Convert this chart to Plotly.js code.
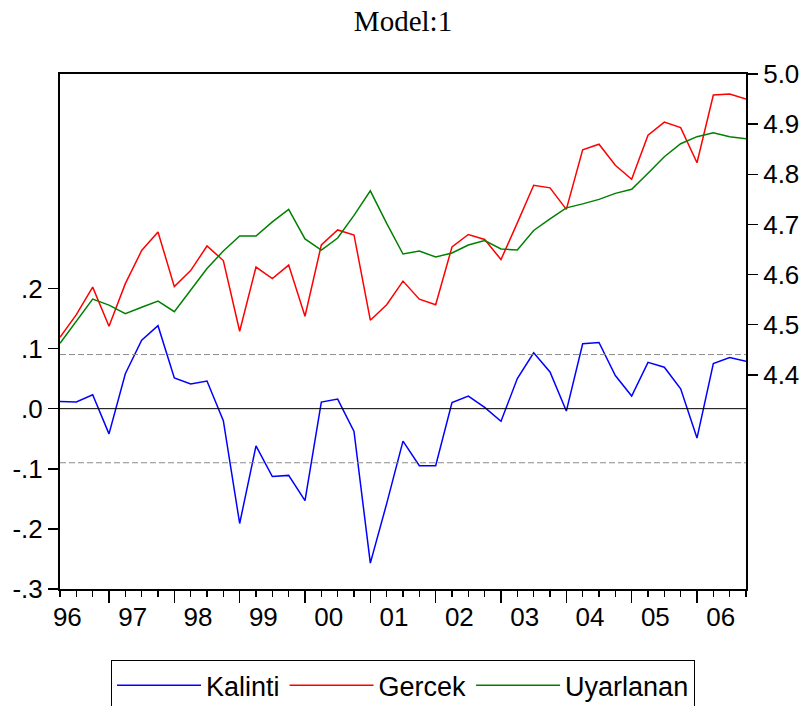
<!DOCTYPE html>
<html><head><meta charset="utf-8">
<script src="https://cdn.plot.ly/plotly-3.0.1.min.js"></script>
<style>html,body{margin:0;padding:0;background:#fff}#chart{width:806px;height:706px}</style>
</head><body><div id="chart"></div>
<script>
// ---- data (quarterly, 1996Q1 .. 2006Q3) ----
const yearLabels = ['96','97','98','99','00','01','02','03','04','05','06'];
const kalinti = [0.012,0.011,0.023,-0.042,0.058,0.114,0.138,0.051,0.041,0.046,-0.020,-0.191,
  -0.062,-0.113,-0.111,-0.153,0.011,0.016,-0.038,-0.257,-0.158,-0.054,-0.095,-0.095,
  0.010,0.021,0.002,-0.021,0.050,0.093,0.061,-0.004,0.108,0.110,0.055,0.021,
  0.077,0.069,0.033,-0.049,0.075,0.085,0.079];
const gercek = [4.475,4.520,4.575,4.497,4.582,4.648,4.685,4.576,4.608,4.657,4.628,4.487,
  4.615,4.592,4.619,4.517,4.659,4.689,4.679,4.509,4.540,4.587,4.551,4.540,
  4.655,4.680,4.670,4.630,4.703,4.778,4.773,4.730,4.849,4.860,4.818,4.790,
  4.878,4.904,4.893,4.823,4.958,4.960,4.950];
const uyarlanan = [4.463,4.507,4.551,4.539,4.522,4.535,4.547,4.526,4.569,4.612,4.647,4.677,
  4.677,4.705,4.730,4.671,4.649,4.673,4.718,4.767,4.702,4.641,4.647,4.635,
  4.643,4.659,4.668,4.651,4.649,4.688,4.711,4.733,4.741,4.750,4.762,4.770,
  4.802,4.835,4.861,4.875,4.883,4.875,4.871];
const seBand = 0.09;
const leftTicks = [-0.3,-0.2,-0.1,0,0.1,0.2];
const leftTickText = ['-.3','-.2','-.1','.0','.1','.2'];
const rightTicks = [4.4,4.5,4.6,4.7,4.8,4.9,5.0];
const rightTickText = ['4.4','4.5','4.6','4.7','4.8','4.9','5.0'];

// ---- build ----
const n = gercek.length;
const xIdx = Array.from({length:n},(_,i)=>i);
const periods = xIdx.map(i => (1996+Math.floor(i/4)) + 'Q' + (i%4+1));
const xMin = xIdx[0], xMax = xIdx[n-1];
const yearMajor = []; for (let q=3; q<n; q+=4) yearMajor.push(q);
const labelPos = yearLabels.map((_,k)=>4*k+0.45);

const sans = 'Liberation Sans, Arial, sans-serif';
const traces = [
  {x:[xMin,xMax], y:[0,0], xaxis:'x2', yaxis:'y', mode:'lines', showlegend:false, hoverinfo:'skip',
   line:{color:'#000000', width:1}},
  {x:[xMin,xMax], y:[seBand,seBand], xaxis:'x2', yaxis:'y', mode:'lines', showlegend:false, hoverinfo:'skip',
   line:{color:'#8c8c8c', width:1, dash:'6px,3px'}},
  {x:[xMin,xMax], y:[-seBand,-seBand], xaxis:'x2', yaxis:'y', mode:'lines', showlegend:false, hoverinfo:'skip',
   line:{color:'#8c8c8c', width:1, dash:'6px,3px'}},
  {x:xIdx, y:kalinti, customdata:periods, name:'Kalinti', xaxis:'x', yaxis:'y', mode:'lines',
   line:{color:'#0000ff', width:1.5}},
  {x:xIdx, y:gercek, customdata:periods, name:'Gercek', xaxis:'x', yaxis:'y2', mode:'lines',
   line:{color:'#ff0000', width:1.5}},
  {x:xIdx, y:uyarlanan, customdata:periods, name:'Uyarlanan', xaxis:'x', yaxis:'y2', mode:'lines',
   line:{color:'#008000', width:1.5}}
];

const layout = {
  width:806, height:706,
  margin:{l:60, r:60, t:74, b:117},
  paper_bgcolor:'#ffffff', plot_bgcolor:'#ffffff',
  hovermode:false,
  font:{family:sans, color:'#000000', size:26},
  title:{text:'Model:1', font:{family:'Liberation Serif, Times New Roman, serif', size:29, color:'#000'},
         x:0.5, xref:'paper', xanchor:'center', y:0.970, yref:'container', yanchor:'middle'},
  xaxis:{range:[xMin,xMax], showline:true, linecolor:'#000', linewidth:2, mirror:true,
         tickmode:'array', tickvals:yearMajor, ticks:'outside', ticklen:12, tickwidth:1.5, tickcolor:'#000',
         showticklabels:false, showgrid:false, zeroline:false,
         minor:{tickmode:'linear', tick0:0, dtick:1, ticks:'outside', ticklen:6, tickwidth:1.5, tickcolor:'#000', showgrid:false}},
  xaxis2:{overlaying:'x', anchor:'y', side:'bottom', range:[xMin,xMax], showline:false, showgrid:false, zeroline:false,
          tickmode:'array', tickvals:labelPos, ticktext:yearLabels, ticks:'outside', ticklen:5,
          tickcolor:'rgba(0,0,0,0)', tickfont:{family:sans, size:26, color:'#000'}},
  yaxis:{range:[-0.3,0.5567], showline:true, linecolor:'#000', linewidth:2, mirror:true,
         tickmode:'array', tickvals:leftTicks, ticktext:leftTickText, ticks:'outside', ticklen:10, tickwidth:1.5,
         tickcolor:'#000', showgrid:false, zeroline:false, tickfont:{family:sans, size:26, color:'#000'}},
  yaxis2:{overlaying:'y', side:'right', anchor:'x', range:[3.973,5.0], showline:true, linecolor:'#000', linewidth:2,
          tickmode:'array', tickvals:rightTicks, ticktext:rightTickText, ticks:'outside', ticklen:10, tickwidth:1.5,
          tickcolor:'#000', showgrid:false, zeroline:false, tickfont:{family:sans, size:26, color:'#000'}},
  legend:{orientation:'h', x:0.5, xanchor:'center', xref:'paper', y:0.065, yanchor:'top', yref:'container',
          bgcolor:'#ffffff', bordercolor:'#000', borderwidth:1, font:{family:sans, size:27, color:'#000'},
          itemwidth:84, traceorder:'normal'}
};
Plotly.newPlot('chart', traces, layout, {displayModeBar:false, staticPlot:true});
</script>
</body></html>
